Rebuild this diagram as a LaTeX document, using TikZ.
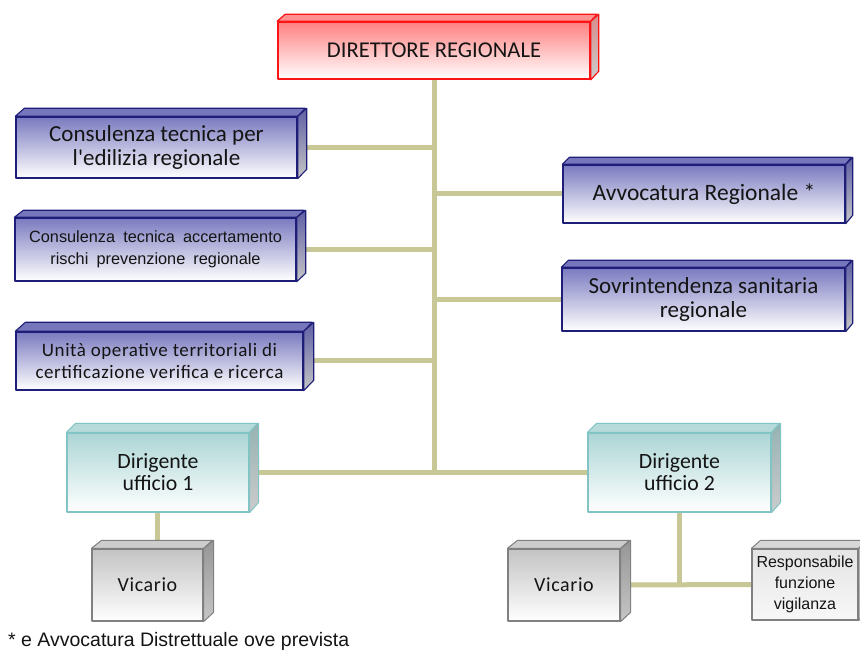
\documentclass[tikz,border=0pt]{standalone}
\usepackage{fontspec}
\setmainfont{Carlito}
\newfontfamily\arialf{Liberation Sans}
\newfontfamily\spacedf{Carlito}[LetterSpace=3]
\newfontfamily\straightq{Carlito}[Ligatures=TeXReset]

% palette
\definecolor{connc}{RGB}{200,200,150}
\definecolor{txt}{RGB}{20,20,20}
\definecolor{redline}{RGB}{250,20,20}
\definecolor{redtop}{RGB}{255,128,128}
\definecolor{redface}{RGB}{255,145,145}
\definecolor{redside}{RGB}{215,140,140}
\definecolor{blueline}{RGB}{30,30,120}
\definecolor{bluetop}{RGB}{122,122,192}
\definecolor{blueface}{RGB}{118,118,188}
\definecolor{blueside}{RGB}{95,95,165}
\definecolor{tealline}{RGB}{130,195,195}
\definecolor{tealtop}{RGB}{172,213,213}
\definecolor{tealface}{RGB}{182,218,218}
\definecolor{tealside}{RGB}{150,178,178}
\definecolor{grayline}{RGB}{128,128,128}
\definecolor{graytop}{RGB}{195,195,195}
\definecolor{grayface}{RGB}{205,205,205}
\definecolor{grayside}{RGB}{150,150,150}
\definecolor{lgraytop}{RGB}{228,228,228}
\definecolor{lgrayface}{RGB}{215,215,215}

\pgfdeclarelayer{wires}
\pgfsetlayers{wires,main}

% wide gap between words
\newcommand\wgap{\hspace{0.5em}}

% 3-D box: name, left, top, right, bottom, depth (dx,-dy), scheme, font, text
\newcommand\orgbox[9]{%
  \node[#7 front, font=#8, minimum width={(#4)-(#2)}, minimum height={(#5)-(#3)}]
    (#1) at ({((#2)+(#4))/2},{((#3)+(#5))/2}) {#9};
  \path[#7 top] (#1.north west) -- ++(#6) -- ++({(#4)-(#2)},0) -- (#1.north east) -- cycle;
  \path[#7 side] (#1.north east) -- ++(#6) -- ++(0,{(#5)-(#3)}) -- (#1.south east) -- cycle;
}

\begin{document}
\begin{tikzpicture}[x=1pt,y=-1pt,
  conn/.style={draw=connc, line width=5pt},
  basebox/.style={rectangle, inner sep=0pt, align=center, text=txt, line join=round},
  red front/.style={basebox, draw=redline, line width=1.6pt, top color=redtop, bottom color=white},
  red top/.style={draw=redline, line width=1.2pt, line join=round, fill=redface},
  red side/.style={draw=redline, line width=1.2pt, line join=round, top color=redside, bottom color=gray!40},
  blue front/.style={basebox, draw=blueline, line width=1.4pt, top color=bluetop, bottom color=white},
  blue top/.style={draw=blueline, line width=1.1pt, line join=round, fill=blueface},
  blue side/.style={draw=blueline, line width=1.1pt, line join=round, top color=blueside, bottom color=gray!45},
  teal front/.style={basebox, draw=tealline, line width=1.2pt, top color=tealtop, bottom color=white},
  teal top/.style={draw=tealline, line width=1pt, line join=round, fill=tealface},
  teal side/.style={draw=tealline, line width=1pt, line join=round, top color=tealside, bottom color=gray!40},
  gray front/.style={basebox, draw=grayline, line width=1.2pt, top color=graytop, bottom color=white},
  gray top/.style={draw=grayline, line width=1pt, line join=round, fill=grayface},
  gray side/.style={draw=grayline, line width=1pt, line join=round, top color=grayside, bottom color=gray!45},
  lgray front/.style={basebox, draw=grayline, line width=1.2pt, top color=lgraytop, bottom color=gray!6},
  lgray top/.style={draw=grayline, line width=1pt, line join=round, fill=lgrayface},
  lgray side/.style={draw=grayline, line width=1pt, line join=round, fill=gray!55},
]
\useasboundingbox (0,0) rectangle (860,652);
\clip (0,0) rectangle (860,652);

% boxes
\orgbox{dir}{278}{22}{590}{79}{8,-7}{red}{\fontsize{22.6}{24}\selectfont}{DIRETTORE REGIONALE}
\orgbox{cte}{16}{117}{297}{178}{9,-8}{blue}{\fontsize{23}{24}\selectfont}{Consulenza tecnica per\\l{\straightq'}edilizia regionale}
\orgbox{cta}{15}{218}{296}{281}{9,-7}{blue}{\arialf\fontsize{16.3}{22}\selectfont}{Consulenza\wgap tecnica\wgap accertamento\\rischi\wgap prevenzione\wgap regionale}
\orgbox{uot}{16}{332}{303}{390}{10,-9}{blue}{\spacedf\fontsize{19}{21.5}\selectfont}{Unità operative territoriali di\\certificazione verifica e ricerca}
\orgbox{avv}{563}{165}{845}{223}{7,-7}{blue}{\fontsize{23.5}{24}\selectfont}{Avvocatura Regionale *}
\orgbox{sov}{562}{268}{845}{331}{7,-7}{blue}{\fontsize{23}{24}\selectfont}{Sovrintendenza sanitaria\\regionale}
\orgbox{dg1}{67}{433}{249}{512}{9,-9}{teal}{\fontsize{21.8}{22}\selectfont}{Dirigente\\ufficio 1}
\orgbox{dg2}{588}{433}{771}{512}{9,-9}{teal}{\fontsize{21.8}{22}\selectfont}{Dirigente\\ufficio 2}
\orgbox{vc1}{92}{549}{203}{621}{10,-8}{gray}{\spacedf\fontsize{20}{22}\selectfont}{Vicario}
\orgbox{vc2}{508}{549}{620}{621}{10,-8}{gray}{\spacedf\fontsize{20}{22}\selectfont}{Vicario}
\orgbox{rsp}{752}{549}{858}{620}{9,-8}{lgray}{\arialf\fontsize{16}{21}\selectfont}{Responsabile\\funzione\\vigilanza}

% connectors, kept beneath the boxes
\begin{pgfonlayer}{wires}
\draw[conn] (dir.south) -- (dir.south |- dg1.east);
\draw[conn] (dg1.east) -- (dg2.west);
\draw[conn] (cte.east) -- (cte.east -| dir.south);
\draw[conn] (cta.east) -- (cta.east -| dir.south);
\draw[conn] (uot.east) -- (uot.east -| dir.south);
\draw[conn] (avv.west) -- (avv.west -| dir.south);
\draw[conn] (sov.west) -- (sov.west -| dir.south);
\coordinate (v1top) at (157,545);
\draw[conn] (dg1.south -| v1top) -- (v1top);
\coordinate (hub) at (679,584);
\draw[conn] (dg2.south -| hub) -- (hub);
\draw[conn] (vc2.east) -- (rsp.west);
\end{pgfonlayer}

% footnote
\node[anchor=base west, inner sep=0pt, text=txt, font=\arialf\fontsize{19.5}{22}\selectfont] (note) at (8,646) {* e Avvocatura Distrettuale ove prevista};
\end{tikzpicture}
\end{document}
